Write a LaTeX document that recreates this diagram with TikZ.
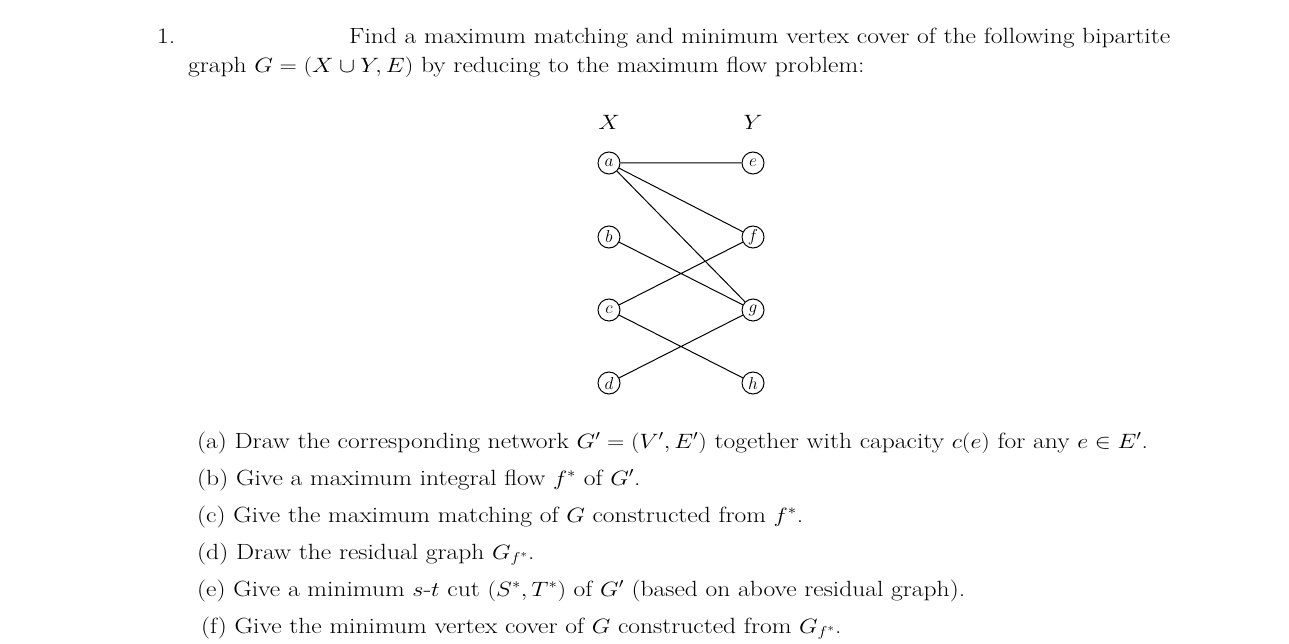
\documentclass[tikz,border=0pt]{standalone}
\usepackage{amsmath}
\usepackage{graphicx}
\newcommand{\hs}[1]{\scalebox{1.16}[1]{#1}}
\begin{document}
\begin{tikzpicture}[x=1pt,y=-1pt,
  txt/.style={anchor=base west,inner sep=0pt,font=\fontsize{22}{26}\selectfont},
  vtx/.style={circle,draw,line width=1pt,minimum size=22pt,inner sep=0pt,font=\fontsize{17}{20}\selectfont},
  edge/.style={line width=1pt}]
\useasboundingbox (0,0) rectangle (1289,644);
\fill[white] (0,0) rectangle (1289,644);
\node[txt] (n1) at (157,44) {\hs{1.}};
\node[txt] (l1) at (349,44) {\hs{Find a maximum matching and minimum vertex cover of the following bipartite}};
\node[txt] (l2) at (188,73) {\hs{graph $G=(X\cup Y,E)$ by reducing to the maximum flow problem:}};
\node[txt,anchor=base] (X) at (609,130) {\hs{$X$}};
\node[txt,anchor=base] (Y) at (753,130) {\hs{$Y$}};
\node[vtx] (a) at (609,163) {$a$};
\node[vtx] (b) at (609,237) {$b$};
\node[vtx] (c) at (609,310) {$c$};
\node[vtx] (d) at (609,383) {$d$};
\node[vtx] (e) at (753,163) {$e$};
\node[vtx] (f) at (753,237) {$f$};
\node[vtx] (g) at (753,310) {$g$};
\node[vtx] (h) at (753,383) {$h$};
\draw[edge] (a)--(e) (a)--(f) (a)--(g) (b)--(g) (c)--(f) (c)--(h) (d)--(g);
\node[txt] (ia) at (197,448) {\hs{(a)\ Draw the corresponding network $G'=(V',E')$ together with capacity $c(e)$ for any $e\in E'$.}};
\node[txt] (ib) at (197,485) {\hs{(b)\ Give a maximum integral flow $f^*$ of $G'$.}};
\node[txt] (ic) at (197,522) {\hs{(c)\ Give the maximum matching of $G$ constructed from $f^*$.}};
\node[txt] (id) at (197,559) {\hs{(d)\ Draw the residual graph $G_{f^*}$.}};
\node[txt] (ie) at (197,596) {\hs{(e)\ Give a minimum $s$-$t$ cut $(S^*,T^*)$ of $G'$ (based on above residual graph).}};
\node[txt] (if) at (201,633) {\hs{(f)\ Give the minimum vertex cover of $G$ constructed from $G_{f^*}$.}};
\end{tikzpicture}
\end{document}
